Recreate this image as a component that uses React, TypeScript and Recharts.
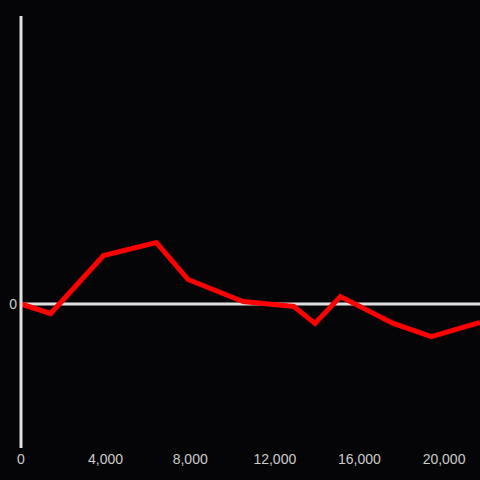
import React from "react"
import { LineChart, Line, XAxis, YAxis, ReferenceLine } from "recharts"

const xValues = [0, 1400, 3900, 6400, 7900, 10500, 12900, 13900, 15100, 17600, 19400, 21700]
const yValues = [0, -0.066, 0.337, 0.427, 0.17, 0.017, -0.017, -0.135, 0.052, -0.135, -0.226, -0.128]
const xTicks = [0, 4000, 8000, 12000, 16000, 20000]
const yTicks = [0]

const data = xValues.map((x, i) => ({ x, y: yValues[i] }))

export default function App() {
  return (
    <div style={{ position: "absolute", left: 0, top: 0, width: 480, height: 480, background: "#050407" }}>
      <LineChart width={480} height={480} data={data} margin={{ top: 16, right: 0, left: 0, bottom: 0 }}>
        <XAxis
          dataKey="x"
          type="number"
          domain={["dataMin", "dataMax"]}
          ticks={xTicks}
          tickFormatter={(v: number) => v.toLocaleString("en-US")}
          axisLine={false}
          tickLine={false}
          tickSize={0}
          tickMargin={6}
          height={32}
          tick={{ fill: "#cccccc", fontSize: 14, fontFamily: "Liberation Sans, Arial, sans-serif" }}
        />
        <YAxis
          type="number"
          domain={[-1, 2]}
          ticks={yTicks}
          width={21}
          tickLine={false}
          tickSize={2}
          tickMargin={2}
          axisLine={{ stroke: "#e0e0e0", strokeWidth: 3 }}
          tick={{ fill: "#cccccc", fontSize: 14, fontFamily: "Liberation Sans, Arial, sans-serif" }}
        />
        <ReferenceLine y={0} stroke="#e0e0e0" strokeWidth={3} />
        <Line
          type="linear"
          dataKey="y"
          stroke="#ff0000"
          strokeWidth={5}
          dot={false}
          isAnimationActive={false}
        />
      </LineChart>
    </div>
  )
}
